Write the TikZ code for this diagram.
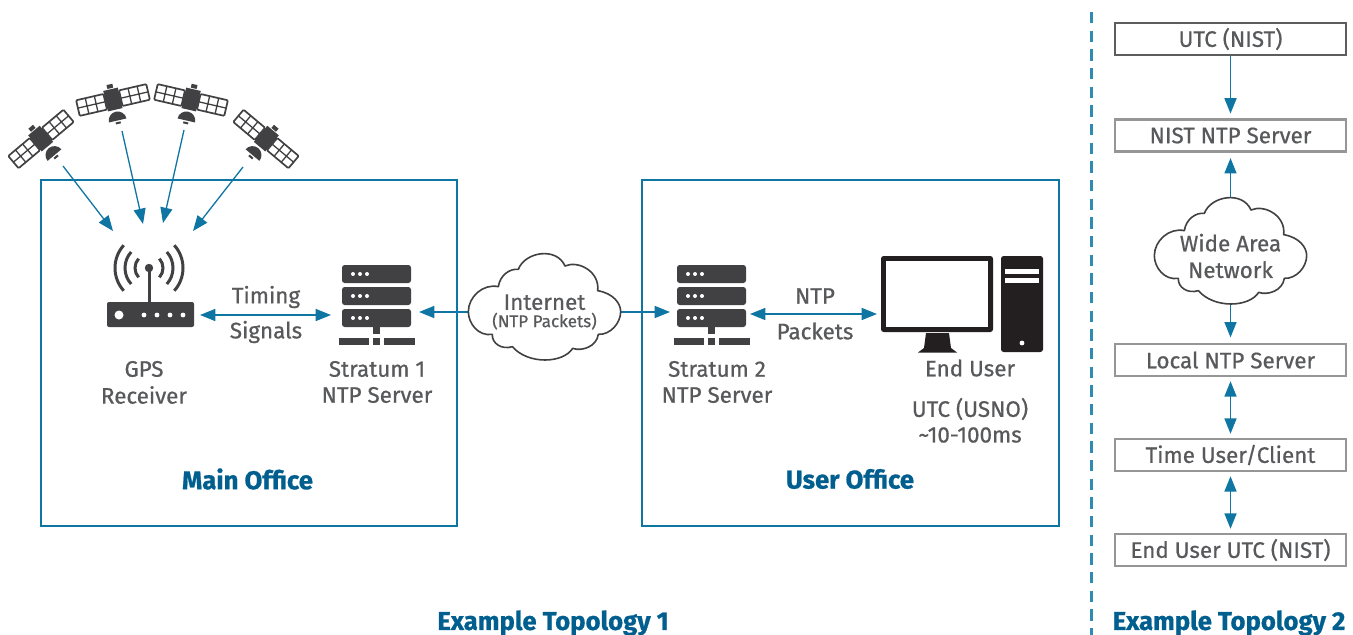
\documentclass[tikz,border=0pt]{standalone}
\usepackage{fontspec}
\setmainfont{Fira Sans}
\newfontfamily\medf{Fira Sans}[FakeBold=0.6]
\newfontfamily\headf{Fira Sans}[FakeBold=0.8]
\usetikzlibrary{arrows.meta}
\definecolor{lblue}{HTML}{0F75A3}
\definecolor{tblue}{HTML}{005F8E}
\definecolor{divblue}{HTML}{2F8BB2}
\definecolor{icon}{HTML}{414042}
\definecolor{dark}{HTML}{231F20}
\definecolor{txt}{HTML}{58595B}
\tikzset{
  x=0.75pt,y=-0.75pt,
  px/.style={line width=#1*0.75pt},
  anchorbox/.style={inner sep=0pt,outer sep=0pt,minimum width=#1*0.75pt},
  office/.style={draw=lblue,px=2},
  lab/.style={text=txt,font=\medf\fontsize{16.8}{20}\selectfont,inner sep=0pt,align=center},
  head/.style={text=tblue,font=\headf\fontsize{19.3}{22}\selectfont\bfseries,inner sep=0pt},
  flowbox/.style={draw=#1,px=2.5,fill=white,minimum width=231*0.75pt,minimum height=32*0.75pt,inner sep=0pt,text=txt,font=\medf\fontsize{16.8}{20}\selectfont},
  oneway/.style={draw=lblue,px=1.5,-{Triangle[length=11.5pt,width=9pt]}},
  twoway/.style={draw=lblue,px=1.5,{Triangle[length=11.5pt,width=9pt]}-{Triangle[length=11.5pt,width=9pt]}},
  satarrow/.style={draw=lblue,px=1.3,-{Triangle[length=11.5pt,width=9pt]}},
}
\newcommand{\serverIcon}[2]{%
 \begin{scope}[shift={(#1,#2)}]
  \foreach \yy in {0,22,44}{
   \fill[icon,rounded corners=2pt] (0,\yy) rectangle (69,\yy+18);
   \foreach \xx in {11,18,25}{\fill[white] (\xx,\yy+9) circle[radius=2];}
  }
  \fill[icon] (31,62) rectangle (38,69);
  \fill[icon] (-3,73) rectangle (27,80);
  \fill[icon] (31,73) rectangle (38,80);
  \fill[icon] (42,73) rectangle (73,80);
 \end{scope}}
\newcommand{\satIcon}[4]{%
 \begin{scope}[shift={(#1,#2)},rotate=#3,xscale=#4]
  \foreach \s in {-1,1}{
   \begin{scope}[xscale=\s]
    \draw[icon,px=1.7,rounded corners=0.8pt] (8,-8) rectangle (36,8);
    \draw[icon,px=1.3] (17.3,-8)--(17.3,8) (26.6,-8)--(26.6,8) (8,0)--(36,0);
   \end{scope}}
  \fill[icon] (-7.5,-11) rectangle (7.5,10);
  \fill[icon] (-3,-16) rectangle (3,-12);
  \fill[icon] (-9,21) arc[start angle=180,end angle=360,radius=9] -- cycle;
  \fill[icon] (-2.5,22.5) rectangle (2.5,24.5);
 \end{scope}}
\newcommand{\cloudShape}[2]{%
 \begin{scope}[shift={(#1,#2)},x=0.25pt,y=-0.25pt]
  \draw[icon,line width=1.2pt,fill=white,line join=round] (145,140)
   .. controls (150,105) and (180,85) .. (205,88)
   .. controls (225,35) and (320,20) .. (345,78)
   .. controls (385,60) and (450,95) .. (443,152)
   .. controls (490,160) and (512,190) .. (512,215)
   .. controls (512,250) and (480,285) .. (445,283)
   .. controls (440,320) and (395,335) .. (368,325)
   .. controls (340,370) and (235,375) .. (187,320)
   .. controls (155,330) and (125,310) .. (127,283)
   .. controls (85,290) and (55,250) .. (55,215)
   .. controls (55,170) and (100,130) .. (145,140) -- cycle;
 \end{scope}}
\begin{document}
\begin{tikzpicture}
\useasboundingbox (0,0) rectangle (1353,635);
\fill[white] (0,0) rectangle (1353,635);
% offices
\node[office,minimum width=416*0.75pt,minimum height=346*0.75pt,inner sep=0pt] (main) at (249,353) {};
\node[office,minimum width=417*0.75pt,minimum height=346*0.75pt,inner sep=0pt] (user) at (850.5,353) {};
\node[head] (mainlab) at (247.5,479) {Main Office};
\node[head] (userlab) at (850,479) {User Office};
% divider
\coordinate (divtop) at (1091,12);
\coordinate (divbot) at (1091,635);
\draw[divblue,px=3,dash pattern=on 8.5pt off 5.5pt] (divtop)--(divbot);
% satellites
\satIcon{41}{139}{40}{1}
\satIcon{113}{100}{13}{1}
\satIcon{191}{100}{-13}{1}
\satIcon{266}{139}{-40}{1}
\foreach \n/\a/\b/\c/\d in {a/63/166/113/231,b/122/131/143/224,c/184/130/163/223,d/243/167/193/231}{
  \coordinate (sat\n) at (\a,\b);
  \coordinate (rx\n) at (\c,\d);
  \draw[satarrow] (sat\n)--(rx\n);
}
% router
\fill[icon,rounded corners=1.5pt] (107,302) rectangle (194,327);
\fill[white] (119,315) circle[radius=4.5];
\foreach \xx in {144,157,170,183}{\fill[white] (\xx,315) circle[radius=2.4];}
\fill[icon] (147.5,268) rectangle (150.5,302);
\fill[icon] (149,268) circle[radius=4.2];
\foreach \rr in {14,24,34}{
 \draw[icon,px=3] ({149-\rr*cos(42)},{268-\rr*sin(42)}) arc[start angle=222,end angle=138,radius=\rr];
 \draw[icon,px=3] ({149+\rr*cos(42)},{268-\rr*sin(42)}) arc[start angle=-42,end angle=42,radius=\rr];
}
\node[anchorbox=108,minimum height=25*0.75pt] (router) at (146,315) {};
% servers
\serverIcon{342}{265}
\serverIcon{677}{265}
\node[anchorbox=88,minimum height=18*0.75pt] (sone) at (375,315) {};
\node[anchorbox=80,minimum height=18*0.75pt] (stwo) at (710,314) {};
% monitor
\fill[dark,rounded corners=2pt] (881,256) rectangle (993,332);
\fill[white] (886,261) rectangle (988,327);
\fill[dark] (926,333) -- (949,333) -- (951,348) -- (957,352.5) -- (918,352.5) -- (924,348) -- cycle;
\fill[dark,rounded corners=2pt] (1001,256) rectangle (1043,352);
\fill[white] (1005,269) rectangle (1039,274);
\fill[white] (1005,278) rectangle (1039,283);
\fill[white] (1022,343) circle[radius=2.4];
\node[anchorbox=2,minimum height=76*0.75pt] (monitor) at (878,314) {};
% clouds
\node[anchorbox=153,minimum height=106*0.75pt] (internet) at (544.5,312) {};
\draw[oneway] (internet.west) -- (sone.east |- internet.west);
\draw[oneway] (internet.east) -- (stwo.west |- internet.east);
\cloudShape{450}{240}
\node[text=txt,inner sep=0pt,align=center] (internetlab) at (544.5,312)
 {{\medf\fontsize{16.8}{20}\selectfont Internet}\\[1pt]{\medf\fontsize{12.8}{15}\selectfont (NTP Packets)}};
\node[anchorbox=153,minimum height=107*0.75pt] (wan) at (1230.5,250.5) {};
% flow boxes
\node[flowbox=icon!85!white] (utc) at (1230.5,39) {UTC (NIST)};
\node[flowbox=icon!55!white] (nist) at (1230.5,135.5) {NIST NTP Server};
\node[flowbox=icon!55!white] (local) at (1230.5,360) {Local NTP Server};
\node[flowbox=icon!55!white] (client) at (1230.5,455) {Time User/Client};
\node[flowbox=icon!55!white] (enduser) at (1230.5,550) {End User UTC (NIST)};
\draw[oneway,shorten >=3.5pt] (utc) -- (nist);
\draw[oneway,shorten >=4pt] (wan.north) -- (nist.south);
\draw[oneway,shorten >=4pt] (wan.south) -- (local.north);
\cloudShape{1136}{184}
\node[lab] (wanlab) at (1230.5,256) {Wide Area\\[0pt]Network};
\draw[twoway,shorten <=3pt,shorten >=3pt] (local) -- (client);
\draw[twoway,shorten <=3pt,shorten >=3pt] (client) -- (enduser);
% arrows in topology 1
\draw[twoway] (router.east) -- (sone.west);
\draw[twoway] (stwo.east) -- (monitor.west);
% labels
\node[lab] (t1) at (266,297) {Timing};
\node[lab] (t2) at (266,332) {Signals};
\node[lab] (t3) at (144,369) {GPS};
\node[lab] (t4) at (144,395) {Receiver};
\node[lab] (t5) at (377,369) {Stratum 1};
\node[lab] (t6) at (377,395) {NTP Server};
\node[lab] (t7) at (717,369) {Stratum 2};
\node[lab] (t8) at (717,395) {NTP Server};
\node[lab] (t9) at (815,296) {NTP};
\node[lab] (t10) at (815,331) {Packets};
\node[lab] (t11) at (970,368) {End User};
\node[lab] (t12) at (970,409) {UTC (USNO)};
\node[lab] (t13) at (970,435) {\textasciitilde 10-100ms};
\node[head] (top1) at (553,623) {Example Topology 1};
\node[head] (top2) at (1229,623) {Example Topology 2};
\end{tikzpicture}
\end{document}
